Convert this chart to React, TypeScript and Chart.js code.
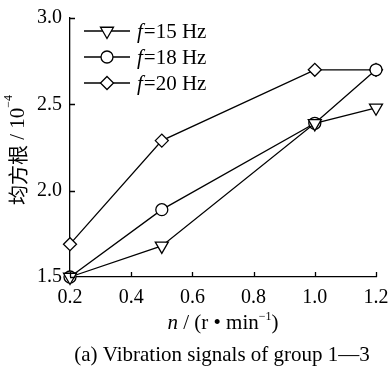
import React, { useEffect, useRef } from "react";
import { Chart, registerables } from "chart.js";

Chart.register(...registerables);

const speeds = [0.2, 0.5, 1.0, 1.2];
const rms15 = [1.5, 1.68, 2.39, 2.48];
const rms18 = [1.5, 1.89, 2.39, 2.7];
const rms20 = [1.69, 2.29, 2.7, 2.7];
const seriesLabels = ["15 Hz", "18 Hz", "20 Hz"];
const xTicks = [0.2, 0.4, 0.6, 0.8, 1.0, 1.2];
const yTicks = [1.5, 2.0, 2.5, 3.0];

const SERIF = "'Liberation Serif', 'DejaVu Serif', serif";
const CJK = "'Noto Sans CJK SC', sans-serif";

type Style = { pointStyle: string; rotation: number; radius: number };
const styles: Style[] = [
  { pointStyle: "triangle", rotation: 180, radius: 7.5 },
  { pointStyle: "circle", rotation: 0, radius: 6 },
  { pointStyle: "rectRot", rotation: 0, radius: 6.5 },
];

function drawMarker(ctx: CanvasRenderingContext2D, st: Style, x: number, y: number) {
  const r = st.radius;
  ctx.beginPath();
  if (st.pointStyle === "circle") {
    ctx.arc(x, y, r, 0, Math.PI * 2);
  } else if (st.pointStyle === "triangle") {
    const s = Math.sin(Math.PI / 3) * r;
    ctx.moveTo(x - s, y - r / 2);
    ctx.lineTo(x + s, y - r / 2);
    ctx.lineTo(x, y + r);
    ctx.closePath();
  } else {
    ctx.moveTo(x, y - r);
    ctx.lineTo(x + r, y);
    ctx.lineTo(x, y + r);
    ctx.lineTo(x - r, y);
    ctx.closePath();
  }
  ctx.fill();
  ctx.stroke();
}

const decorPlugin = {
  id: "decor",
  afterDraw(chart: any) {
    const ctx = chart.ctx as CanvasRenderingContext2D;
    const xs = chart.scales.x;
    const ys = chart.scales.y;
    const area = chart.chartArea;
    ctx.save();
    ctx.strokeStyle = "#000";
    ctx.lineWidth = 1.3;
    // inward ticks
    ctx.beginPath();
    for (const v of xTicks) {
      const px = Math.round(xs.getPixelForValue(v)) + 0.5;
      ctx.moveTo(px, area.bottom);
      ctx.lineTo(px, area.bottom - 5);
    }
    for (const v of yTicks) {
      const py = Math.round(ys.getPixelForValue(v)) + 0.5;
      ctx.moveTo(area.left, py);
      ctx.lineTo(area.left + 5, py);
    }
    ctx.stroke();

    // legend
    const lx0 = area.left + 14;
    const lx1 = area.left + 60;
    const rowY = [area.top + 13, area.top + 39, area.top + 65];
    seriesLabels.forEach((lab, i) => {
      const y = rowY[i];
      ctx.beginPath();
      ctx.lineWidth = 1.3;
      ctx.strokeStyle = "#000";
      ctx.moveTo(lx0, y);
      ctx.lineTo(lx1, y);
      ctx.stroke();
      ctx.fillStyle = "#fff";
      drawMarker(ctx, styles[i], (lx0 + lx1) / 2, y);
      ctx.fillStyle = "#000";
      ctx.textBaseline = "middle";
      ctx.textAlign = "left";
      ctx.font = `italic 21px ${SERIF}`;
      const tx = lx1 + 7;
      ctx.fillText("f", tx, y + 1);
      const fw = ctx.measureText("f").width;
      ctx.font = `21px ${SERIF}`;
      ctx.fillText("=" + lab, tx + fw + 1, y + 1);
    });

    // x title
    ctx.fillStyle = "#000";
    ctx.textBaseline = "alphabetic";
    ctx.textAlign = "left";
    const parts: [string, string, number][] = [
      ["n", `italic 21px ${SERIF}`, 0],
      [" / (r • min", `21px ${SERIF}`, 0],
      ["−1", `12px ${SERIF}`, -9],
      [")", `21px ${SERIF}`, 0],
    ];
    let total = 0;
    for (const p of parts) {
      ctx.font = p[1];
      total += ctx.measureText(p[0]).width;
    }
    let x = 223 - total / 2;
    const by = 329;
    for (const p of parts) {
      ctx.font = p[1];
      ctx.fillText(p[0], x, by + p[2]);
      x += ctx.measureText(p[0]).width;
    }

    // y title rotated
    ctx.save();
    ctx.translate(17, 150);
    ctx.rotate(-Math.PI / 2);
    const yparts: [string, string, number][] = [
      ["均方根", `20px ${CJK}`, 0],
      [" / 10", `21px ${SERIF}`, 0],
      ["−4", `12px ${SERIF}`, -9],
    ];
    let yt = 0;
    for (const p of yparts) {
      ctx.font = p[1];
      yt += ctx.measureText(p[0]).width;
    }
    let yx = -yt / 2;
    ctx.textBaseline = "middle";
    for (const p of yparts) {
      ctx.font = p[1];
      ctx.fillText(p[0], yx, p[2] + 1);
      yx += ctx.measureText(p[0]).width;
    }
    ctx.restore();

    // caption
    ctx.font = `21px ${SERIF}`;
    ctx.textAlign = "center";
    ctx.textBaseline = "alphabetic";
    ctx.fillText("(a) Vibration signals of group 1—3", 222, 361);
    ctx.restore();
  },
};

export default function App() {
  const ref = useRef<HTMLCanvasElement>(null);
  useEffect(() => {
    document.body.style.margin = "0";
    const canvas = ref.current!;
    const mk = (data: number[], i: number) => ({
      label: seriesLabels[i],
      data: speeds.map((s, k) => ({ x: s, y: data[k] })),
      borderColor: "#000",
      borderWidth: 1.3,
      backgroundColor: "#fff",
      pointBackgroundColor: "#fff",
      pointBorderColor: "#000",
      pointBorderWidth: 1.3,
      pointStyle: styles[i].pointStyle,
      pointRotation: styles[i].rotation,
      pointRadius: styles[i].radius,
      clip: false as any,
      tension: 0,
    });
    const chart = new Chart(canvas, {
      type: "line",
      data: { datasets: [mk(rms15, 0), mk(rms18, 1), mk(rms20, 2)] },
      options: {
        responsive: false,
        animation: false,
        events: [],
        layout: { padding: { left: 0, right: 16, top: 18, bottom: 0 } },
        plugins: { legend: { display: false }, tooltip: { enabled: false } },
        scales: {
          x: {
            type: "linear",
            min: 0.2,
            max: 1.2,
            afterBuildTicks: (s: any) => {
              s.ticks = xTicks.map((v) => ({ value: v }));
            },
            afterFit: (s: any) => {
              s.height = 95;
              s.paddingLeft = 0;
              s.paddingRight = 0;
            },
            grid: { display: true, drawOnChartArea: false, drawTicks: false },
            border: { display: true, color: "#000", width: 1.3 },
            ticks: {
              padding: 9,
              color: "#000",
              font: { family: SERIF, size: 20 },
              callback: (v: any) => Number(v).toFixed(1),
              maxRotation: 0,
              autoSkip: false,
            },
          },
          y: {
            type: "linear",
            min: 1.5,
            max: 3.0,
            afterBuildTicks: (s: any) => {
              s.ticks = yTicks.map((v) => ({ value: v }));
            },
            afterFit: (s: any) => {
              s.width = 70;
              s.paddingTop = 0;
              s.paddingBottom = 0;
            },
            grid: { display: true, drawOnChartArea: false, drawTicks: false },
            border: { display: true, color: "#000", width: 1.3 },
            ticks: {
              padding: 8,
              color: "#000",
              font: { family: SERIF, size: 20 },
              callback: (v: any) => Number(v).toFixed(1),
              autoSkip: false,
            },
          },
        },
      },
      plugins: [decorPlugin],
    } as any);
    return () => chart.destroy();
  }, []);
  return <canvas ref={ref} width={392} height={372} style={{ display: "block" }} />;
}
